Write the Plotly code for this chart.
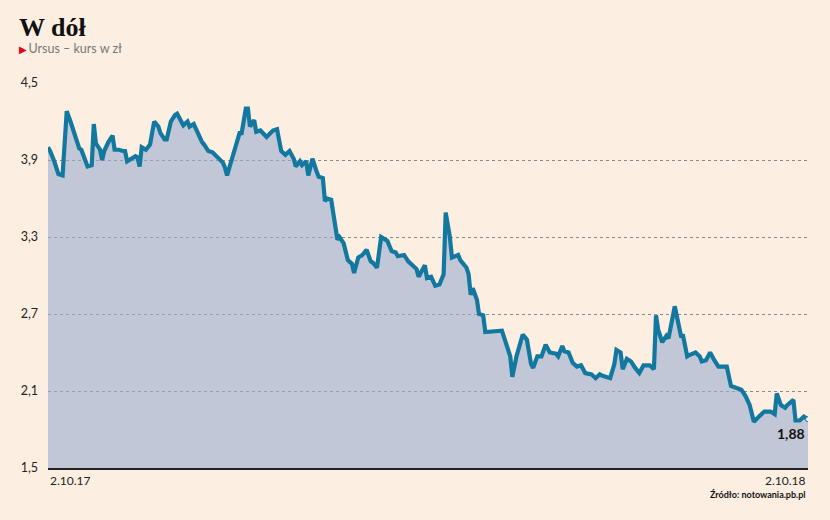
import datetime as dt
import plotly.graph_objects as go

# Data: day offset from 2 Oct 2017 and closing price (zł)
start_date = "2017-10-02"
end_date = "2018-10-02"
days = [0, 1, 3, 5, 7, 9, 11, 12, 13, 15, 16, 17, 19, 21, 22, 23, 25, 26, 27, 29,
        31, 32, 34, 36, 37, 38, 40, 42, 43, 44, 45, 47, 49, 51, 53, 54, 56, 57, 59, 61,
        62, 65, 67, 68, 70, 72, 74, 75, 77, 79, 81, 84, 85, 86, 88, 90, 92, 93, 95, 96,
        97, 99, 100, 102, 105, 108, 110, 112, 114, 116, 118, 119, 121, 122, 124, 125, 127, 129, 130, 132,
        133, 134, 136, 139, 140, 142, 144, 146, 147, 149, 151, 153, 155, 156, 158, 160, 163, 165, 167, 168,
        171, 173, 176, 177, 178, 181, 182, 184, 186, 188, 190, 191, 193, 194, 197, 198, 201, 202, 203, 204,
        206, 207, 209, 210, 218, 221, 222, 223, 225, 228, 230, 232, 233, 235, 237, 239, 241, 244, 245, 247,
        248, 250, 252, 254, 256, 258, 261, 263, 265, 266, 268, 270, 272, 273, 275, 276, 278, 280, 282, 284,
        286, 289, 291, 292, 293, 295, 297, 298, 301, 303, 304, 305, 307, 308, 311, 313, 314, 316, 318, 320,
        322, 325, 326, 328, 330, 333, 335, 337, 339, 341, 342, 344, 347, 349, 350, 352, 354, 355, 358, 359,
        361, 363, 365]
prices = [4.00, 3.97, 3.89, 3.79, 3.78, 4.28, 4.19, 4.14, 4.11, 3.99, 3.98, 3.94, 3.85, 3.86, 4.18, 4.03, 3.98, 3.90, 3.97, 4.04,
          4.09, 3.98, 3.98, 3.97, 3.97, 3.89, 3.91, 3.93, 3.92, 3.85, 4.00, 3.98, 4.02, 4.20, 4.16, 4.11, 4.06, 4.06, 4.20, 4.25,
          4.26, 4.17, 4.20, 4.16, 4.18, 4.10, 4.04, 4.02, 3.97, 3.96, 3.93, 3.88, 3.84, 3.78, 3.89, 3.99, 4.11, 4.11, 4.30, 4.30,
          4.16, 4.21, 4.12, 4.13, 4.08, 4.13, 4.14, 3.97, 3.94, 3.97, 3.91, 3.85, 3.89, 3.86, 3.89, 3.78, 3.91, 3.81, 3.77, 3.76,
          3.58, 3.60, 3.59, 3.28, 3.30, 3.25, 3.12, 3.09, 3.02, 3.14, 3.16, 3.20, 3.11, 3.10, 3.06, 3.30, 3.27, 3.19, 3.18, 3.15,
          3.16, 3.11, 3.06, 3.05, 2.99, 3.08, 2.98, 2.99, 2.92, 2.93, 3.01, 3.49, 3.30, 3.14, 3.16, 3.12, 3.06, 3.01, 2.85, 2.90,
          2.81, 2.70, 2.69, 2.56, 2.57, 2.41, 2.37, 2.21, 2.37, 2.54, 2.50, 2.31, 2.28, 2.37, 2.37, 2.46, 2.40, 2.39, 2.37, 2.45,
          2.41, 2.40, 2.32, 2.29, 2.30, 2.24, 2.23, 2.20, 2.23, 2.22, 2.21, 2.20, 2.31, 2.42, 2.40, 2.27, 2.35, 2.33, 2.28, 2.24,
          2.30, 2.30, 2.27, 2.69, 2.58, 2.48, 2.53, 2.51, 2.76, 2.61, 2.53, 2.53, 2.37, 2.38, 2.40, 2.37, 2.33, 2.34, 2.40, 2.34,
          2.29, 2.29, 2.29, 2.14, 2.13, 2.11, 2.06, 1.99, 1.86, 1.90, 1.91, 1.94, 1.94, 1.92, 2.08, 1.99, 1.97, 1.99, 2.03, 1.87,
          1.87, 1.90, 1.88]
y_ticks = [1.5, 2.1, 2.7, 3.3, 3.9, 4.5]
y_tick_labels = ["1,5", "2,1", "2,7", "3,3", "3,9", "4,5"]
x_labels = ["2.10.17", "2.10.18"]
last_label = "1,88"

t0 = dt.datetime.fromisoformat(start_date)
t1 = dt.datetime.fromisoformat(end_date)
dates = [t0 + dt.timedelta(days=d) for d in days]

BG = "#fcefe2"
LINE = "#13789f"
FONT = "Lato"

W, H = 830, 520
L, R, T, B = 48, 22, 83, 52

fig = go.Figure()
fig.add_trace(go.Scatter(
    x=dates, y=prices, mode="lines",
    line=dict(color=LINE, width=4.2),
    fill="tozeroy", fillcolor="rgba(156,175,207,0.62)",
    hoverinfo="skip", showlegend=False,
))
fig.add_trace(go.Scatter(
    x=[dates[-1]], y=[prices[-1]], mode="markers",
    marker=dict(color="#eef3f6", size=5, line=dict(color=LINE, width=1)),
    hoverinfo="skip", showlegend=False,
))

fig.update_layout(
    width=W, height=H,
    margin=dict(l=L, r=R, t=T, b=B),
    paper_bgcolor=BG, plot_bgcolor=BG,
    font=dict(family=FONT, size=12, color="#222"),
    title=dict(text="<b>W dół</b>", x=19 / W, xanchor="left",
               y=1 - 27 / H, yanchor="middle",
               font=dict(family="Liberation Serif", size=26, color="#111")),
    xaxis=dict(range=[t0, t1], showgrid=False, zeroline=False,
               showticklabels=False, ticks="",
               showline=True, linecolor="#222", linewidth=1.5),
    yaxis=dict(range=[1.5, 4.5], tickvals=y_ticks, ticktext=y_tick_labels,
               showgrid=True, gridcolor="#8a8a8a", gridwidth=1, griddash="dot",
               zeroline=False, showline=False, ticks="",
               ticklabelstandoff=9,
               tickfont=dict(family=FONT, size=12.5, color="#222")),
)

ann = []
ann.append(dict(xref="paper", yref="paper", x=-0.041, y=(468 - 48) / 385,
                xanchor="left", yanchor="middle", showarrow=False,
                text="<span style='color:#e3001b;font-size:10px'>▶</span>"
                     "<span style='color:#777'>\u2009Ursus – kurs w zł</span>",
                font=dict(family=FONT, size=12.5, color="#777")))
ann.append(dict(xref="paper", yref="paper", x=0, y=(468 - 480) / 385,
                xanchor="left", yanchor="middle", showarrow=False,
                text=x_labels[0], font=dict(family=FONT, size=12, color="#222")))
ann.append(dict(xref="paper", yref="paper", x=1, y=(468 - 480) / 385,
                xanchor="right", yanchor="middle", showarrow=False,
                text=x_labels[1], font=dict(family=FONT, size=12, color="#222")))
ann.append(dict(xref="paper", yref="paper", x=1, y=(468 - 495) / 385,
                xanchor="right", yanchor="middle", showarrow=False,
                text="<b>Źródło: notowania.pb.pl</b>",
                font=dict(family=FONT, size=9, color="#111")))
ann.append(dict(xref="x", yref="y", x=dates[-1], y=prices[-1],
                xanchor="right", yanchor="middle", yshift=-14, xshift=-1,
                showarrow=False, text="<b>" + last_label + "</b>",
                font=dict(family=FONT, size=14, color="#111")))
fig.update_layout(annotations=ann)

fig.write_html(
    "out.html",
    config={"displayModeBar": False},
    post_script="document.body.style.margin='0';"
                "document.body.style.background='" + BG + "';",
)
